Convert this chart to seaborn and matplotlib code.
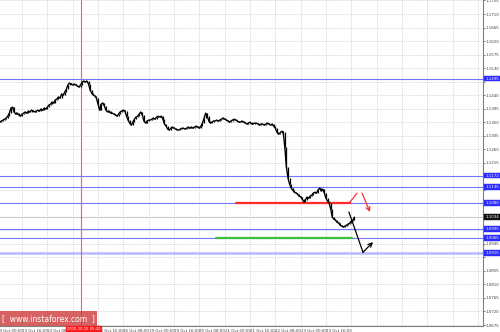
import numpy as np
import pandas as pd
import matplotlib
matplotlib.use("Agg")
import matplotlib.pyplot as plt
from matplotlib.patches import Rectangle
import seaborn as sns

# ---------------- data (EURUSD, H1, trading hours from 13 Oct 00:00) ----------------
first_hour = 2
close_prices = [
    1.1350, 1.1354, 1.1357, 1.1360, 1.1364, 1.1370, 1.1380, 1.1397,
    1.1400, 1.1384, 1.1377, 1.1380, 1.1374, 1.1370, 1.1377, 1.1380,
    1.1384, 1.1380, 1.1387, 1.1384, 1.1390, 1.1387, 1.1384, 1.1387,
    1.1390, 1.1387, 1.1394, 1.1390, 1.1397, 1.1394, 1.1400, 1.1407,
    1.1410, 1.1417, 1.1414, 1.1424, 1.1427, 1.1434, 1.1430, 1.1444,
    1.1440, 1.1450, 1.1460, 1.1474, 1.1480, 1.1477, 1.1474, 1.1477,
    1.1474, 1.1470, 1.1467, 1.1474, 1.1484, 1.1487, 1.1484, 1.1487,
    1.1477, 1.1457, 1.1447, 1.1440, 1.1437, 1.1430, 1.1410, 1.1390,
    1.1410, 1.1414, 1.1404, 1.1390, 1.1384, 1.1387, 1.1380, 1.1380,
    1.1377, 1.1374, 1.1370, 1.1377, 1.1384, 1.1387, 1.1390, 1.1387,
    1.1370, 1.1357, 1.1347, 1.1340, 1.1350, 1.1360, 1.1367, 1.1370,
    1.1377, 1.1384, 1.1374, 1.1354, 1.1347, 1.1354, 1.1357, 1.1357,
    1.1360, 1.1364, 1.1360, 1.1367, 1.1370, 1.1367, 1.1370, 1.1360,
    1.1344, 1.1337, 1.1327, 1.1324, 1.1330, 1.1334, 1.1330, 1.1327,
    1.1324, 1.1324, 1.1327, 1.1330, 1.1330, 1.1327, 1.1330, 1.1334,
    1.1330, 1.1334, 1.1330, 1.1334, 1.1337, 1.1334, 1.1330, 1.1337,
    1.1347, 1.1364, 1.1380, 1.1370, 1.1354, 1.1347, 1.1350, 1.1354,
    1.1354, 1.1357, 1.1354, 1.1357, 1.1360, 1.1364, 1.1360, 1.1357,
    1.1354, 1.1350, 1.1354, 1.1357, 1.1360, 1.1357, 1.1354, 1.1350,
    1.1350, 1.1354, 1.1350, 1.1347, 1.1344, 1.1347, 1.1350, 1.1344,
    1.1344, 1.1347, 1.1347, 1.1344, 1.1340, 1.1344, 1.1344, 1.1340,
    1.1344, 1.1347, 1.1344, 1.1340, 1.1344, 1.1337, 1.1330, 1.1317,
    1.1310, 1.1314, 1.1320, 1.1317, 1.1267, 1.1201,
    1.1164, 1.1144, 1.1131, 1.1124, 1.1117, 1.1114, 1.1111, 1.1104,
    1.1101, 1.1094, 1.1084, 1.1091, 1.1101, 1.1097, 1.1104, 1.1107,
    1.1114, 1.1117, 1.1114, 1.1124, 1.1131, 1.1121, 1.1127, 1.1114,
    1.1097, 1.1087, 1.1081, 1.1061, 1.1034, 1.1027, 1.1024, 1.1017,
    1.1014, 1.1007, 1.1004, 1.1001, 1.1004, 1.1007, 1.1011, 1.1014,
    1.1021, 1.1024, 1.1034,
]

level_prices = [1.1495, 1.1172, 1.1135, 1.1080, 1.0995, 1.0965]
level_labels = ["1.1495", "1.1172", "1.1135", "1.1080", "1.0995", "1.0965"]
strong_level_price = 1.0915
strong_level_label = "1.0915"
current_price = 1.1034
current_label = "1.1034"

red_level = 1.1080
red_level_hours = [151.2, 223.2]
green_level = 1.0965
green_level_hours = [138.5, 224.4]

red_arrow_up_hours = [223.2, 227.6]
red_arrow_up_prices = [1.1084, 1.1114]
red_arrow_down_hours = [230.8, 235.8]
red_arrow_down_prices = [1.1114, 1.1051]
black_arrow_hours = [222.5, 231.4, 237.7]
black_arrow_prices = [1.1051, 1.0917, 1.0951]

marker_hour = 53.3
marker_label = "2015.10.15 05:20"

# regular scale labels; the ones hidden behind the coloured price tags are blank
y_ticks = [1.0675, 1.0720, 1.0765, 1.0810, 1.0855, 1.0900, 1.0945, 1.0990,
           1.1035, 1.1080, 1.1125, 1.1170, 1.1215, 1.1260, 1.1305, 1.1350,
           1.1395, 1.1440, 1.1485, 1.1530, 1.1575, 1.1620, 1.1665, 1.1710, 1.1755]
y_tick_labels = ["1.0675", "1.0720", "1.0765", "1.0810", "1.0855", "", "1.0945", "",
                 "", "", "", "", "1.1215", "1.1260", "1.1305", "1.1350",
                 "1.1395", "1.1440", "", "1.1530", "1.1575", "1.1620", "1.1665", "1.1710", "1.1755"]

x_tick_hours = [0, 16, 32, 48, 64, 80, 96, 112, 128, 144, 160, 176, 192, 208,
                224, 240, 256, 272, 288, 304]
x_tick_labels = ["13 Oct 00:00", "13 Oct 16:00", "14 Oct 08:00", "",
                 "15 Oct 16:00", "16 Oct 08:00", "19 Oct 00:00", "19 Oct 16:00",
                 "20 Oct 08:00", "21 Oct 00:00", "21 Oct 16:00", "22 Oct 08:00",
                 "23 Oct 00:00", "23 Oct 16:00", "", "", "", "", "", ""]

# ---------------- plotting ----------------
sns.set_style("white")
plt.rcParams['font.family'] = ['DejaVu Sans']

W, H = 500, 332
PX_PER_HOUR = 1.583
PRICE_PER_PX = 0.0003328
fig = plt.figure(figsize=(W / 100, H / 100), dpi=100)
fig.patch.set_facecolor("white")
ax = fig.add_axes([-3.3 / W, 6 / H, 486.3 / W, 326 / H])
ax.set_facecolor("white")

df = pd.DataFrame({"hour": first_hour + np.arange(len(close_prices)),
                   "price": close_prices})

grid_kw = dict(color="#c8c8c8", lw=0.5, ls=(0, (1.5, 1.5)), zorder=0)
for yv in y_ticks:
    ax.axhline(yv, **grid_kw)
for xv in x_tick_hours:
    ax.axvline(xv, **grid_kw)

blue = "#7575ff"
for p in level_prices:
    ax.axhline(p, color=blue, lw=0.8, zorder=2)
ax.axhline(strong_level_price, color="#b8b8ff", lw=1.8, zorder=2)
ax.axhline(current_price, color="#c8c8c8", lw=0.8, zorder=2)

ax.axvline(marker_hour, color="#ff5a5a", lw=0.8, zorder=2)

sns.lineplot(data=df, x="hour", y="price", color="black", lw=1.0, ax=ax,
             zorder=4, legend=False)
pv = df["price"].values
ax.vlines(df["hour"].values[1:], np.minimum(pv[:-1], pv[1:]), np.maximum(pv[:-1], pv[1:]),
          color="black", lw=0.9, zorder=4)

ax.plot(red_level_hours, [red_level, red_level], color="#ff2a2a", lw=1.6, zorder=3)
ax.plot(green_level_hours, [green_level, green_level], color="#3cbf3c", lw=1.6, zorder=3)

ax.plot(red_arrow_up_hours, red_arrow_up_prices, color="#ff3030", lw=0.9, zorder=5)
ax.annotate("", xy=(red_arrow_down_hours[1], red_arrow_down_prices[1]),
            xytext=(red_arrow_down_hours[0], red_arrow_down_prices[0]),
            arrowprops=dict(arrowstyle="->", color="#ff3030", lw=0.9,
                            shrinkA=0, shrinkB=0, mutation_scale=7), zorder=5)
ax.plot(black_arrow_hours[:2], black_arrow_prices[:2], color="black", lw=0.9, zorder=5)
ax.annotate("", xy=(black_arrow_hours[2], black_arrow_prices[2]),
            xytext=(black_arrow_hours[1], black_arrow_prices[1]),
            arrowprops=dict(arrowstyle="->", color="black", lw=0.9,
                            shrinkA=0, shrinkB=0, mutation_scale=7), zorder=5)

ax.set_xlim(0, 486.3 / PX_PER_HOUR)
ax.set_ylim(1.0675 - 1 * PRICE_PER_PX, 1.0675 + 325 * PRICE_PER_PX)

ax.yaxis.tick_right()
ax.set_yticks(y_ticks)
ax.set_yticklabels(y_tick_labels)
ax.set_xticks(x_tick_hours)
ax.set_xticklabels(x_tick_labels, ha="left")
ax.tick_params(axis="both", labelsize=2.9, colors="#404040", length=1.5, width=0.5, pad=0.6)
ax.set_xlabel("")
ax.set_ylabel("")
for s in ["top", "left"]:
    ax.spines[s].set_visible(False)
for s in ["right", "bottom"]:
    ax.spines[s].set_color("#808080")
    ax.spines[s].set_linewidth(0.8)

ytrans = ax.get_yaxis_transform()
def price_tag(p, txt, face):
    ax.text(1.0045, p, txt, transform=ytrans, fontsize=2.9, color="white",
            ha="left", va="center", zorder=10, clip_on=False,
            bbox=dict(boxstyle="square,pad=0.2", fc=face, ec=face, lw=0.3))

for p, t in zip(level_prices, level_labels):
    price_tag(p, t, "#2b2bff")
price_tag(strong_level_price, strong_level_label, "#2b2bff")
price_tag(current_price, current_label, "#111111")

ax.text(marker_hour + 1.5, -0.003, marker_label, transform=ax.get_xaxis_transform(),
        fontsize=2.7, color="white", ha="center", va="top", zorder=10, clip_on=False,
        bbox=dict(boxstyle="square,pad=0.2", fc="#ff1a1a", ec="#ff1a1a"))

fig.patches.append(Rectangle((0, 6 / H), 97 / W, 15 / H, transform=fig.transFigure,
                             facecolor="#cf3f3f", alpha=0.82, edgecolor="none", zorder=20))
fig.text(48.5 / W, 13.5 / H, "[  www.instaforex.com  ]", color="white", fontsize=5.5,
         ha="center", va="center", zorder=21)

fig.savefig("out.png", dpi=100, facecolor="white")
